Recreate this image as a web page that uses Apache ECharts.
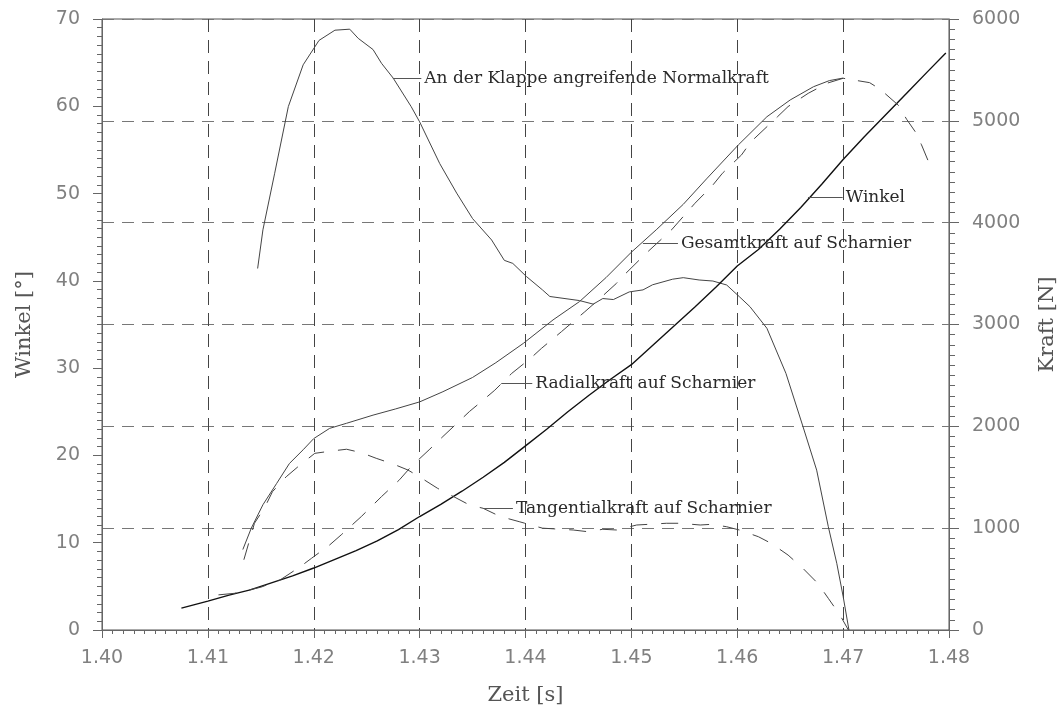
<!DOCTYPE html>
<html>
<head>
<meta charset="utf-8">
<script src="https://cdn.jsdelivr.net/npm/echarts@6/dist/echarts.min.js"></script>
<style>html,body{margin:0;padding:0;background:#fff}#c{width:1060px;height:713px}</style>
</head>
<body>
<div id="c"></div>
<script>
// ---- data ----
const xTicks = [1.40, 1.41, 1.42, 1.43, 1.44, 1.45, 1.46, 1.47, 1.48];

// Winkel [°] (left axis)
const winkelT = [1.4075,1.410,1.412,1.414,1.416,1.418,1.420,1.422,1.424,1.426,1.428,1.430,1.432,1.434,1.436,1.438,1.440,1.442,1.444,1.446,1.448,1.450,1.452,1.454,1.456,1.458,1.460,1.462,1.464,1.466,1.468,1.470,1.472,1.474,1.476,1.478,1.4797];
const winkelV = [2.5,3.3,4.0,4.6,5.4,6.2,7.1,8.1,9.1,10.2,11.5,13.0,14.4,15.9,17.5,19.2,21.1,23.0,25.0,26.9,28.7,30.4,32.6,34.8,37.0,39.3,41.7,43.6,45.9,48.4,51.1,53.9,56.5,59.0,61.5,64.0,66.1];

// An der Klappe angreifende Normalkraft [N]
const normT = [1.4147,1.4152,1.4163,1.4176,1.4190,1.4205,1.4220,1.4234,1.4242,1.4256,1.4264,1.4275,1.4292,1.4300,1.4319,1.4335,1.4350,1.4368,1.4380,1.4388,1.4401,1.4416,1.4423,1.4451,1.4464,1.4473,1.4483,1.4498,1.4511,1.4520,1.4539,1.4549,1.4564,1.4577,1.4590,1.4602,1.4612,1.4628,1.4646,1.4662,1.4675,1.4686,1.4694,1.4700,1.47055];
const normV = [3550,3930,4480,5140,5550,5790,5890,5900,5810,5700,5565,5420,5140,4990,4580,4290,4040,3830,3630,3600,3470,3340,3275,3235,3200,3255,3245,3320,3340,3390,3445,3460,3437,3427,3388,3273,3175,2963,2520,2000,1570,1015,655,330,0];

// Gesamtkraft auf Scharnier [N]
const gesT = [1.4133,1.4141,1.4152,1.4165,1.4177,1.4190,1.4200,1.4215,1.4231,1.4256,1.4277,1.4300,1.4322,1.4350,1.4372,1.4398,1.4426,1.4451,1.4476,1.4500,1.4524,1.4549,1.4571,1.4601,1.4628,1.4650,1.4672,1.4687,1.4700];
const gesV = [790,1000,1230,1440,1635,1770,1880,1980,2030,2110,2170,2240,2340,2480,2625,2815,3045,3225,3460,3710,3935,4180,4430,4763,5040,5205,5335,5395,5420];

// Radialkraft auf Scharnier [N]
const radT = [1.4110,1.4125,1.4150,1.4168,1.4187,1.4198,1.4215,1.4226,1.4245,1.4264,1.4281,1.4292,1.4309,1.4322,1.4347,1.4358,1.4371,1.4387,1.4405,1.4415,1.4434,1.4456,1.4467,1.4486,1.4495,1.4514,1.4538,1.4560,1.4577,1.4586,1.4604,1.4613,1.4638,1.4648,1.4667,1.4685,1.4700,1.4725,1.4735,1.4752,1.4760,1.4768,1.4774,1.4782];
const radV = [345,360,420,490,620,705,835,935,1115,1310,1475,1605,1770,1900,2145,2240,2355,2520,2670,2765,2930,3125,3225,3405,3505,3700,3930,4190,4370,4485,4665,4795,5040,5140,5270,5370,5418,5375,5310,5155,5015,4895,4765,4565];

// Tangentialkraft auf Scharnier [N]
const tanT = [1.4134,1.4144,1.4154,1.4161,1.4174,1.4187,1.4201,1.4217,1.4231,1.4245,1.4259,1.4275,1.4289,1.4302,1.4317,1.4331,1.4347,1.4360,1.4376,1.4394,1.4416,1.4432,1.4445,1.4459,1.4473,1.4486,1.4505,1.4517,1.4533,1.4546,1.4565,1.4576,1.4590,1.4602,1.4620,1.4632,1.4648,1.4662,1.4676,1.4686,1.4697,1.4705];
const tanV = [690,1048,1210,1358,1505,1620,1735,1758,1775,1741,1686,1630,1571,1490,1391,1316,1228,1195,1115,1064,1000,990,982,965,989,982,1031,1038,1048,1048,1031,1038,1014,982,916,851,736,606,459,311,147,0];

// curve labels: text, leader start/end time, level
const labelTexts = ['An der Klappe angreifende Normalkraft','Winkel','Gesamtkraft auf Scharnier','Radialkraft auf Scharnier','Tangentialkraft auf Scharnier'];
const labelT0 = [1.42747,1.46668,1.45109,1.43771,1.43598];
const labelT1 = [1.43016,1.46996,1.45440,1.44064,1.43881];
const labelV  = [5418,49.55,3797,2423,1195];

// ---- chart ----
const zip = (a, b) => a.map((t, i) => [t, b[i]]);
const leader = (i) => ({
  silent: true, symbol: ['none','none'], animation: false,
  lineStyle: { type: 'solid', color: '#555', width: 1 },
  label: { show: true, position: 'end', distance: 3, formatter: labelTexts[i],
           fontFamily: 'DejaVu Serif', fontSize: 17, color: '#2a2a2a' },
  emphasis: { disabled: true },
  data: [[{ coord: [labelT0[i], labelV[i]] }, { coord: [labelT1[i], labelV[i]] }]]
});

const axisCol = '#666';
const tickFont = { fontFamily: 'DejaVu Sans', fontSize: 19, color: '#808080' };
const nameFont = { fontFamily: 'DejaVu Serif', fontSize: 21, color: '#555' };

const chart = echarts.init(document.getElementById('c'));
chart.setOption({
  animation: false,
  backgroundColor: '#fff',
  grid: { left: 102, right: 111, top: 19, bottom: 83, outerBoundsMode: 'none', containLabel: false,
          show: true, borderColor: '#555', borderWidth: 1, backgroundColor: 'transparent' },
  xAxis: {
    type: 'value', min: 1.40, max: 1.48, interval: 0.01,
    name: 'Zeit [s]', nameLocation: 'middle', nameGap: 55, nameTextStyle: nameFont,
    axisLine: { lineStyle: { color: axisCol } },
    axisTick: { length: 8, lineStyle: { color: axisCol } },
    minorTick: { show: true, splitNumber: 10, length: 4, lineStyle: { color: axisCol } },
    axisLabel: Object.assign({ margin: 19, formatter: v => v.toFixed(2) }, tickFont),
    splitLine: { show: true, lineStyle: { type: [13, 8], color: '#444', width: 1 } }
  },
  yAxis: [{
    type: 'value', min: 0, max: 70, interval: 10, position: 'left',
    name: 'Winkel [°]', nameLocation: 'middle', nameRotate: 90, nameGap: 67, nameTextStyle: nameFont,
    axisLine: { show: true, lineStyle: { color: axisCol } },
    axisTick: { show: true, length: 9, lineStyle: { color: axisCol } },
    minorTick: { show: true, splitNumber: 10, length: 5, lineStyle: { color: axisCol } },
    axisLabel: Object.assign({ margin: 22, formatter: v => String(v) }, tickFont),
    splitLine: { show: false }
  }, {
    type: 'value', min: 0, max: 6000, interval: 1000, position: 'right',
    name: 'Kraft [N]', nameLocation: 'middle', nameRotate: 90, nameGap: 88, nameTextStyle: nameFont,
    axisLine: { show: true, lineStyle: { color: axisCol } },
    axisTick: { show: true, length: 10, lineStyle: { color: axisCol } },
    minorTick: { show: true, splitNumber: 10, length: 6, lineStyle: { color: axisCol } },
    axisLabel: Object.assign({ margin: 23, formatter: v => String(v) }, tickFont),
    splitLine: { show: true, lineStyle: { type: [12, 8], color: '#777', width: 1 } }
  }],
  series: [
    { name: 'Normalkraft', type: 'line', yAxisIndex: 1, data: zip(normT, normV), showSymbol: false,
      lineStyle: { color: '#444', width: 1 }, markLine: leader(0) },
    { name: 'Winkel', type: 'line', yAxisIndex: 0, data: zip(winkelT, winkelV), showSymbol: false,
      lineStyle: { color: '#111', width: 1.4 }, markLine: leader(1) },
    { name: 'Gesamtkraft', type: 'line', yAxisIndex: 1, data: zip(gesT, gesV), showSymbol: false,
      lineStyle: { color: '#444', width: 1 }, markLine: leader(2) },
    { name: 'Radialkraft', type: 'line', yAxisIndex: 1, data: zip(radT, radV), showSymbol: false,
      lineStyle: { color: '#444', width: 1, type: [18, 13] }, markLine: leader(3) },
    { name: 'Tangentialkraft', type: 'line', yAxisIndex: 1, data: zip(tanT, tanV), showSymbol: false,
      lineStyle: { color: '#444', width: 1, type: [17, 14] }, markLine: leader(4) }
  ]
});
</script>
</body>
</html>
